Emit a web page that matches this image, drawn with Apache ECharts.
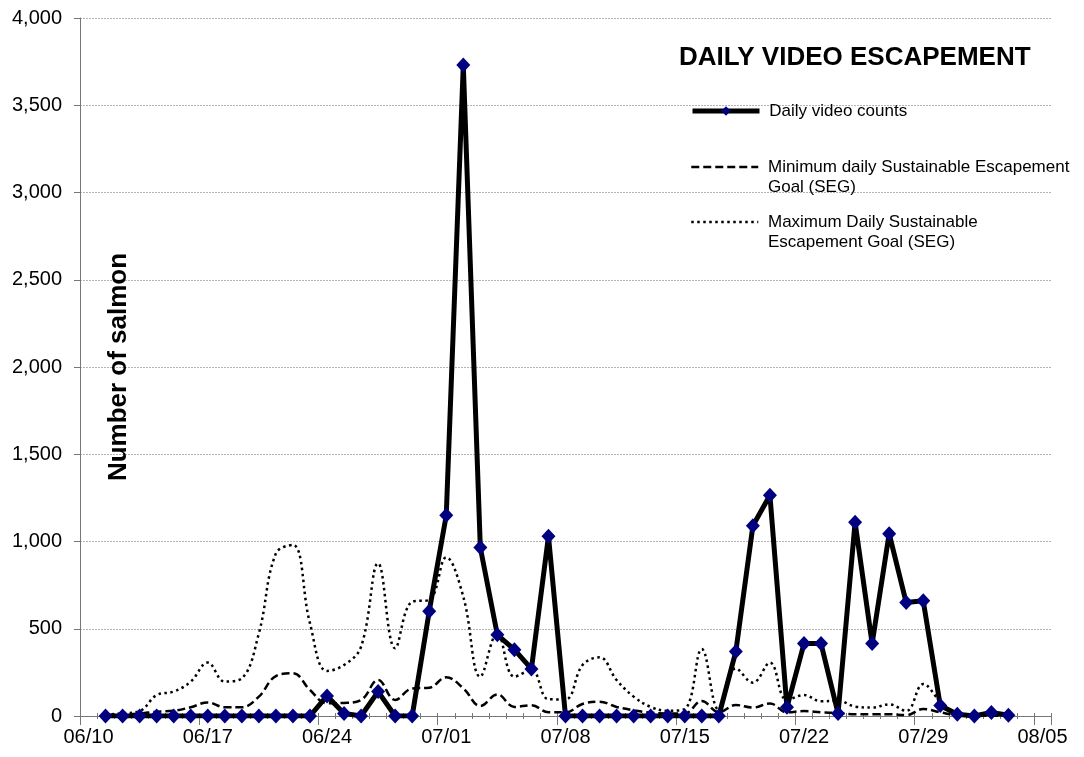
<!DOCTYPE html>
<html>
<head>
<meta charset="utf-8">
<title>Daily Video Escapement</title>
<script src="https://cdn.jsdelivr.net/npm/echarts@6/dist/echarts.min.js"></script>
<style>
  html, body { margin: 0; padding: 0; background: #fff; }
  #chart { width: 1084px; height: 757px; }
</style>
</head>
<body>
<div id="chart"></div>
<script>
// Axis days, 06/10 through 08/05 (one slot per day)
const categories = [
  '06/10','06/11','06/12','06/13','06/14','06/15','06/16','06/17','06/18','06/19','06/20',
  '06/21','06/22','06/23','06/24','06/25','06/26','06/27','06/28','06/29','06/30',
  '07/01','07/02','07/03','07/04','07/05','07/06','07/07','07/08','07/09','07/10',
  '07/11','07/12','07/13','07/14','07/15','07/16','07/17','07/18','07/19','07/20',
  '07/21','07/22','07/23','07/24','07/25','07/26','07/27','07/28','07/29','07/30','07/31',
  '08/01','08/02','08/03','08/04','08/05'
];

// Counted days: 06/11 through 08/03
const countDays = categories.slice(1, 55);

const dailyVideoCounts = [
  0, 0, 0, 0, 0, 0, 0, 0, 0, 0, 0, 0, 0,
  115, 15, 0, 140, 0, 0,
  600, 1150, 3730, 965, 465, 380, 270, 1030,
  0, 0, 0, 0, 0, 0, 0, 0, 0, 0,
  370, 1090, 1265, 50, 415, 415, 15, 1110, 415, 1045, 650, 660, 60, 10,
  0, 20, 5
];

const minDailySEG = [
  5, 8, 14, 25, 30, 50, 78, 50, 50, 111, 229, 245, 149, 73, 75, 92, 206, 92, 158, 162,
  222, 159, 57, 124, 52, 62, 21, 21, 69, 82, 52, 33, 19, 15, 15, 86, 22, 63, 48, 72,
  21, 28, 21, 17, 10, 10, 10, 5, 40, 21, 5,
  3, 2, 2
];

const maxDailySEG = [
  8, 15, 28, 120, 140, 197, 306, 197, 216, 474, 932, 980, 531, 258, 292, 397, 875, 388, 655, 665,
  909, 684, 225, 474, 225, 264, 96, 95, 292, 336, 206, 111, 52, 30, 40, 384, 34, 273, 191, 306,
  92, 120, 84, 88, 54, 48, 67, 29, 183, 84, 15,
  8, 5, 3
];

const yTicks = { min: 0, max: 4000, step: 500 };

const seriesNames = {
  counts: 'Daily video counts',
  minSeg: 'Minimum daily Sustainable Escapement\nGoal (SEG)',
  maxSeg: 'Maximum Daily Sustainable\nEscapement Goal (SEG)'
};

const FONT = '"Liberation Sans", Arial, Helvetica, sans-serif';
const AXIS_GREY = '#777777';

const pair = (values) => values.map((v, i) => [countDays[i], v]);

const legendText = {
  fontFamily: FONT, fontSize: 17, color: '#000', lineHeight: 20
};

// day-by-day minor ticks drawn on an extra, label-less category axis
const minorTickAxis = (inside) => ({
  type: 'category',
  data: categories,
  position: 'bottom',
  boundaryGap: true,
  axisLine: { show: false },
  axisTick: { show: true, interval: 0, inside: inside, length: 3, lineStyle: { color: AXIS_GREY } },
  axisLabel: { show: false },
  splitLine: { show: false }
});

const chart = echarts.init(document.getElementById('chart'), null, { renderer: 'canvas' });

chart.setOption({
  animation: false,
  backgroundColor: '#ffffff',
  textStyle: { fontFamily: FONT },
  title: {
    text: 'DAILY VIDEO ESCAPEMENT',
    left: 679,
    top: 45,
    padding: 0,
    textStyle: { fontFamily: FONT, fontSize: 26, fontWeight: 'bold', color: '#000' }
  },
  legend: [
    {
      data: [seriesNames.counts],
      left: 690, top: 101, padding: 0,
      itemWidth: 67, itemHeight: 12,
      lineStyle: { width: 5, color: '#000' },
      itemStyle: { color: '#000080', borderWidth: 0 },
      textStyle: legendText,
      formatter: (n) => ' ' + n
    },
    {
      data: [seriesNames.minSeg],
      left: 690, top: 137, padding: 0,
      itemWidth: 67, itemHeight: 14,
      lineStyle: { width: 2.5, color: '#000' },
      itemStyle: { color: 'rgba(0,0,0,0)', borderWidth: 0 },
      textStyle: legendText,
      formatter: (n) => ' \n ' + n.replace('\n', '\n ')
    },
    {
      data: [seriesNames.maxSeg],
      left: 690, top: 192, padding: 0,
      itemWidth: 67, itemHeight: 14,
      lineStyle: { width: 2.5, color: '#000' },
      itemStyle: { color: 'rgba(0,0,0,0)', borderWidth: 0 },
      textStyle: legendText,
      formatter: (n) => ' \n ' + n.replace('\n', '\n ')
    }
  ],
  grid: { left: 80, right: 33, top: 18, bottom: 41, containLabel: false },
  xAxis: [
    {
      type: 'category',
      data: categories,
      position: 'bottom',
      boundaryGap: true,
      axisLine: { show: true, lineStyle: { color: AXIS_GREY, width: 1 } },
      axisTick: { show: true, interval: 6, length: 9, lineStyle: { color: AXIS_GREY } },
      axisLabel: { interval: 6, margin: 11, fontSize: 20, color: '#000', fontFamily: FONT },
      splitLine: { show: false }
    },
    minorTickAxis(true),
    minorTickAxis(false)
  ],
  yAxis: {
    type: 'value',
    min: yTicks.min,
    max: yTicks.max,
    interval: yTicks.step,
    name: 'Number of salmon',
    nameLocation: 'middle',
    nameRotate: 90,
    nameGap: -52,
    nameTextStyle: { fontFamily: FONT, fontSize: 26, fontWeight: 'bold', color: '#000' },
    axisLine: { show: true, lineStyle: { color: AXIS_GREY, width: 1 } },
    axisTick: { show: true, length: 6, lineStyle: { color: AXIS_GREY } },
    axisLabel: {
      margin: 18, fontSize: 20, color: '#000', fontFamily: FONT,
      formatter: (v) => v.toLocaleString('en-US')
    },
    splitLine: { show: true, lineStyle: { color: '#b4b4b4', width: 1, type: [2, 1] } }
  },
  series: [
    {
      name: seriesNames.maxSeg,
      type: 'line',
      data: pair(maxDailySEG),
      smooth: 0.4,
      showSymbol: false,
      symbol: 'none',
      lineStyle: { color: '#000', width: 2.5, type: [2.5, 3.5], cap: 'butt' },
      itemStyle: { color: '#000' },
      z: 2
    },
    {
      name: seriesNames.minSeg,
      type: 'line',
      data: pair(minDailySEG),
      smooth: 0.4,
      showSymbol: false,
      symbol: 'none',
      lineStyle: { color: '#000', width: 2.5, type: [8, 4], cap: 'butt' },
      itemStyle: { color: '#000' },
      z: 3
    },
    {
      name: seriesNames.counts,
      type: 'line',
      data: pair(dailyVideoCounts),
      symbol: 'diamond',
      symbolSize: [14, 15],
      showAllSymbol: true,
      lineStyle: { color: '#000', width: 5, join: 'bevel' },
      itemStyle: { color: '#000080', borderWidth: 0 },
      z: 4
    }
  ]
});
</script>
</body>
</html>
